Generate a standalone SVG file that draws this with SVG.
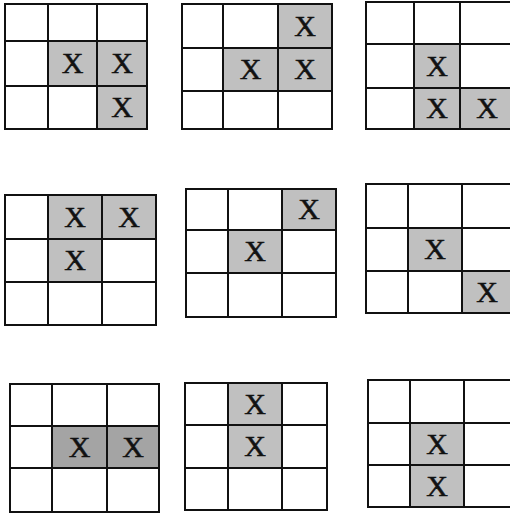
<svg xmlns="http://www.w3.org/2000/svg" width="510" height="514" viewBox="0 0 510 514">
<style>
.sh{fill:#c0c0c0}
.dk{fill:#a4a4a4}
.ln{fill:none;stroke:#111111;stroke-width:2}
.x{font-family:"Liberation Serif","Times New Roman",serif;font-size:30px;fill:#111111;stroke:#111111;stroke-width:0.5;text-anchor:middle}
</style>
<rect width="510" height="514" fill="#ffffff"/>
<g id="grid1">
<rect class="sh" x="48" y="41" width="49" height="45"/><rect class="sh" x="97" y="41" width="50" height="45"/><rect class="sh" x="97" y="86" width="50" height="43"/>
<path class="ln" d="M5 4H147V129H5Z M48 4V129 M97 4V129 M5 41H147 M5 86H147"/>
<text class="x" x="72.5" y="73">X</text><text class="x" x="122" y="73">X</text><text class="x" x="122" y="117">X</text>
</g>
<g id="grid2">
<rect class="sh" x="278" y="4" width="54" height="44"/><rect class="sh" x="223" y="48" width="55" height="43"/><rect class="sh" x="278" y="48" width="54" height="43"/>
<path class="ln" d="M182 4H332V129H182Z M223 4V129 M278 4V129 M182 48H332 M182 91H332"/>
<text class="x" x="305" y="36">X</text><text class="x" x="250.5" y="79">X</text><text class="x" x="305" y="79">X</text>
</g>
<g id="grid3">
<rect class="sh" x="414" y="44" width="46" height="44"/><rect class="sh" x="414" y="88" width="46" height="41"/><rect class="sh" x="460" y="88" width="52" height="41"/>
<path class="ln" d="M512 2H366V129H512 M414 2V129 M460 2V129 M366 44H512 M366 88H512"/>
<text class="x" x="437" y="76">X</text><text class="x" x="437" y="118">X</text><text class="x" x="487" y="118">X</text>
</g>
<g id="grid4">
<rect class="sh" x="48" y="195" width="54" height="44"/><rect class="sh" x="102" y="195" width="54" height="44"/><rect class="sh" x="48" y="239" width="54" height="43"/>
<path class="ln" d="M5 195H156V325H5Z M48 195V325 M102 195V325 M5 239H156 M5 282H156"/>
<text class="x" x="75" y="227">X</text><text class="x" x="129" y="227">X</text><text class="x" x="75" y="270">X</text>
</g>
<g id="grid5">
<rect class="sh" x="282" y="189" width="54" height="41"/><rect class="sh" x="228" y="230" width="54" height="43"/>
<path class="ln" d="M186 189H336V317H186Z M228 189V317 M282 189V317 M186 230H336 M186 273H336"/>
<text class="x" x="309" y="219">X</text><text class="x" x="255" y="261">X</text>
</g>
<g id="grid6">
<rect class="sh" x="408" y="228" width="54" height="43"/><rect class="sh" x="462" y="271" width="50" height="42"/>
<path class="ln" d="M512 184H366V313H512 M408 184V313 M462 184V313 M366 228H512 M366 271H512"/>
<text class="x" x="435" y="259">X</text><text class="x" x="487" y="302">X</text>
</g>
<g id="grid7">
<rect class="dk" x="52" y="426" width="55" height="42"/><rect class="dk" x="107" y="426" width="52" height="42"/>
<path class="ln" d="M10 384H159V512H10Z M52 384V512 M107 384V512 M10 426H159 M10 468H159"/>
<text class="x" x="79.5" y="457">X</text><text class="x" x="133" y="457">X</text>
</g>
<g id="grid8">
<rect class="sh" x="228" y="383" width="54" height="42"/><rect class="sh" x="228" y="425" width="54" height="43"/>
<path class="ln" d="M185 383H327V510H185Z M228 383V510 M282 383V510 M185 425H327 M185 468H327"/>
<text class="x" x="255" y="414">X</text><text class="x" x="255" y="456">X</text>
</g>
<g id="grid9">
<rect class="sh" x="410" y="423" width="54" height="42"/><rect class="sh" x="410" y="465" width="54" height="42"/>
<path class="ln" d="M512 380H368V507H512 M410 380V507 M464 380V507 M368 423H512 M368 465H512"/>
<text class="x" x="437" y="454">X</text><text class="x" x="437" y="496">X</text>
</g>
<g id="connectors"></g>
</svg>
